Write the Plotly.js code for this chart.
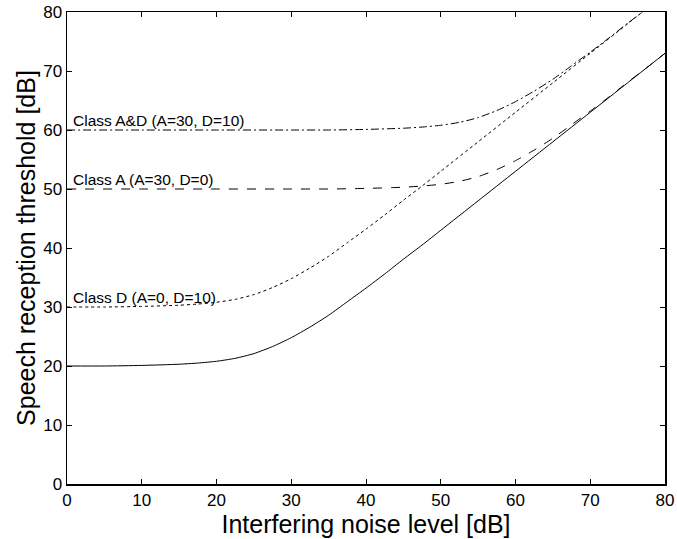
<!DOCTYPE html>
<html>
<head>
<meta charset="utf-8">
<script src="https://cdn.plot.ly/plotly-3.0.1.min.js"></script>
<style>html,body{margin:0;padding:0;background:#fff;}#chart{width:677px;height:539px;}</style>
</head>
<body>
<div id="chart"></div>
<script>
// Interfering noise level [dB] (x) and speech reception threshold [dB] (y)
const noiseSolid = [0, 5, 10, 15, 17.5, 20, 22.5, 25, 27.5, 30, 32.5, 35, 37.5, 40, 42.5, 45, 47.5, 50, 55, 60, 65, 70, 75, 80];
const srtNormal  = [20.0, 20.0, 20.1, 20.3, 20.5, 20.8, 21.3, 22.1, 23.3, 24.8, 26.6, 28.6, 30.9, 33.2, 35.6, 38.1, 40.5, 43.0, 48.0, 53.0, 58.0, 63.0, 68.0, 73.0];

const noiseD = [0, 5, 10, 15, 17.5, 20, 22.5, 25, 27.5, 30, 32.5, 35, 37.5, 40, 42.5, 45, 47.5, 50, 55, 60, 65, 70, 75, 77];
const srtD   = [30.0, 30.0, 30.1, 30.3, 30.5, 30.8, 31.3, 32.1, 33.3, 34.8, 36.6, 38.6, 40.9, 43.2, 45.6, 48.1, 50.5, 53.0, 58.0, 63.0, 68.0, 73.0, 78.0, 80.0];

const noiseA = [0, 10, 20, 30, 35, 40, 45, 47.5, 50, 52.5, 55, 57.5, 60, 62.5, 65, 67.5, 70, 72.5, 75, 77.5, 80];
const srtA   = [50.0, 50.0, 50.0, 50.0, 50.0, 50.1, 50.3, 50.5, 50.8, 51.3, 52.1, 53.3, 54.8, 56.6, 58.6, 60.9, 63.2, 65.6, 68.1, 70.5, 73.0];

const noiseAD = [0, 10, 20, 30, 35, 40, 45, 47.5, 50, 52.5, 55, 57.5, 60, 62.5, 65, 67.5, 70, 72.5, 75, 77];
const srtAD   = [60.0, 60.0, 60.0, 60.0, 60.0, 60.1, 60.3, 60.5, 60.8, 61.3, 62.1, 63.3, 64.8, 66.6, 68.6, 70.9, 73.2, 75.6, 78.1, 80.0];

const curveLabels = ["Class A&D (A=30, D=10)", "Class A (A=30, D=0)", "Class D (A=0, D=10)"];
const labelLevels = [60, 50, 30];

const tickVals = [0, 10, 20, 30, 40, 50, 60, 70, 80];
const tickText = ["0", "10", "20", "30", "40", "50", "60", "70", "80"];

const FONT = "Liberation Sans, Arial, Helvetica, sans-serif";

const line = (x, y, dash) => ({
  x: x, y: y, type: "scatter", mode: "lines",
  line: {color: "#000", width: 1, dash: dash, shape: "spline", smoothing: 0.6},
  hoverinfo: "skip", showlegend: false
});

const data = [
  line(noiseSolid, srtNormal, "solid"),
  line(noiseA, srtA, "dash"),
  line(noiseD, srtD, "dot"),
  line(noiseAD, srtAD, "8px,3px,2px,3px")
];

const annotations = curveLabels.map((t, i) => ({
  x: 0.6, y: labelLevels[i], xref: "x", yref: "y",
  text: t, showarrow: false, xanchor: "left", yanchor: "bottom", yshift: -1,
  font: {family: FONT, size: 15.5, color: "#000"}
}));

const axisCommon = {
  range: [0, 80], tickmode: "array", tickvals: tickVals, ticktext: tickText,
  ticks: "inside", ticklen: 5, tickwidth: 1, tickcolor: "#000",
  showline: true, linecolor: "#000", linewidth: 1.5, mirror: "allticks",
  showgrid: false, zeroline: false, fixedrange: true,
  tickfont: {family: FONT, size: 17, color: "#000"}
};

const layout = {
  width: 677, height: 539,
  margin: {l: 67, r: 12, t: 12, b: 55, pad: 0},
  paper_bgcolor: "#fff", plot_bgcolor: "#fff",
  xaxis: Object.assign({}, axisCommon, {
    title: {text: "Interfering noise level [dB]", font: {family: FONT, size: 25, color: "#000"}, standoff: 2}
  }),
  yaxis: Object.assign({}, axisCommon, {
    title: {text: "Speech reception threshold [dB]", font: {family: FONT, size: 25, color: "#000"}, standoff: 0}
  }),
  annotations: annotations,
  showlegend: false
};

Plotly.newPlot("chart", data, layout, {staticPlot: true, displayModeBar: false});
</script>
</body>
</html>
